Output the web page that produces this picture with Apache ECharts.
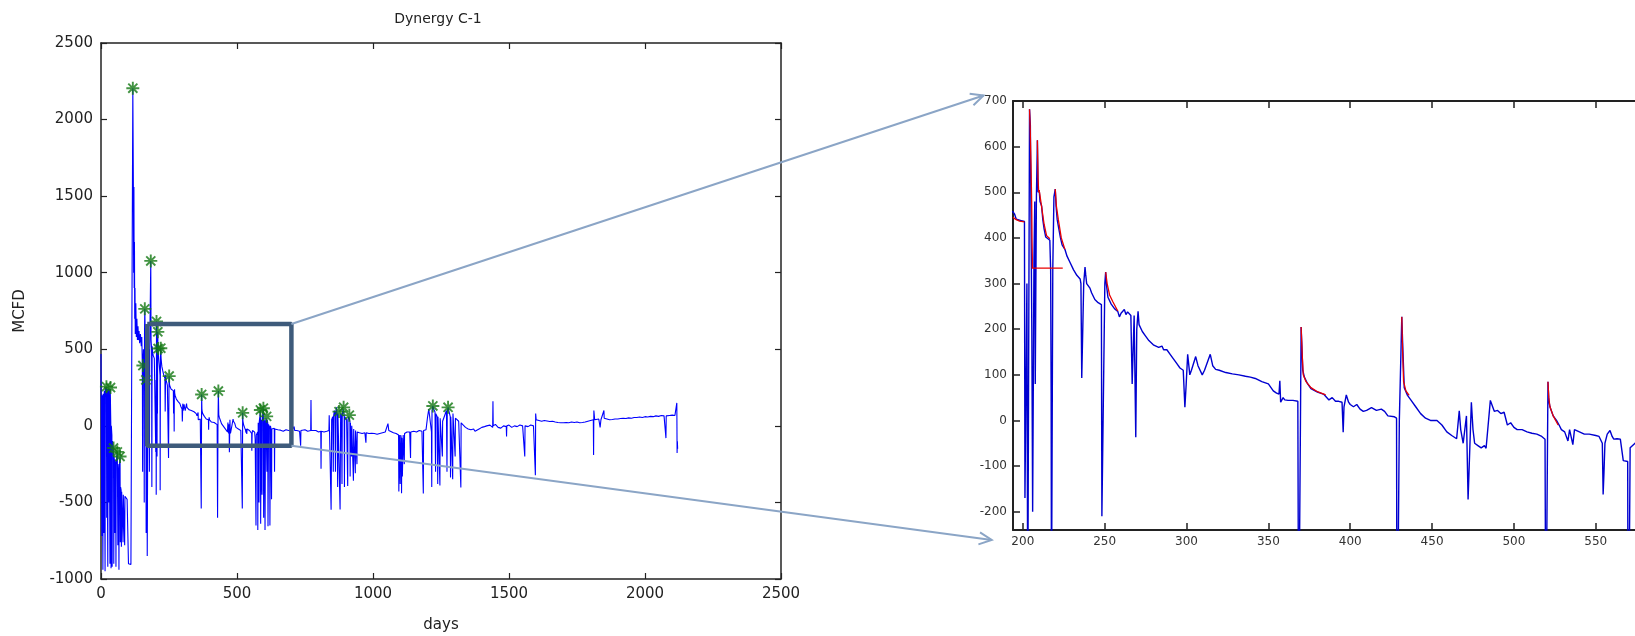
<!DOCTYPE html>
<html><head><meta charset="utf-8">
<script src="https://cdn.jsdelivr.net/npm/echarts@6/dist/echarts.min.js"></script>
<style>html,body{margin:0;padding:0;background:#fff}#c{width:1635px;height:636px}</style>
</head><body><div id="c"></div><script>
// ---------- data ----------
const chartTitle = 'Dynergy C-1';
const mainXTicks = [0, 500, 1000, 1500, 2000, 2500];
const mainYTicks = [-1000, -500, 0, 500, 1000, 1500, 2000, 2500];
const zoomXTicks = [200, 250, 300, 350, 400, 450, 500, 550, 600];
const zoomYTicks = [-200, -100, 0, 100, 200, 300, 400, 500, 600, 700];

// production rate [day, MCFD], days 0-192
const flowEarly = [[0,470],[0.5,200],[2,210],[3,-720],[4,200],[6,190],[7,-940],[8,210],[10,200],[11,-700],[12,230],[14,220],[15,-950],[16,240],[18,250],[20,256],[21,-600],[22,240],[24,230],[25,-920],[26,240],[28,235],[29,-500],[30,240],[32,245],[33,-900],[34,240],[35,250],[36,20],[37,-930],[38,0],[40,-60],[41,-920],[42,-100],[44,-130],[46,-145],[47,-900],[48,-200],[50,-250],[51,-700],[52,-220],[54,-300],[55,-920],[56,-250],[58,-200],[60,-170],[61,-170],[62,-780],[63,-250],[65,-350],[66,-940],[67,-300],[69,-220],[70,-200],[71,-760],[72,-400],[74,-420],[75,-790],[76,-430],[79,-440],[80,-440],[81,-760],[82,-450],[86,-460],[87,-780],[88,-460],[92,-470],[96,-480],[100,-490],[101,-900],[110,-905],[116,-905],[117,2205],[119,1570],[120,1000],[121,1560],[122,900],[123,1200],[124,700],[125,900],[126,600],[128,800],[130,580],[132,700],[134,560],[136,650],[138,560],[140,620],[142,540],[145,600],[148,520],[150,580],[152,400],[153,-300],[154,394],[156,500],[158,300],[159,-500],[160,600],[161,764],[163,560],[165,300],[166,-700],[167,450],[169,400],[170,-850],[172,-860],[173,450],[175,500],[177,420],[178,-300],[179,480],[182,470],[183,1077],[184,560],[186,500],[187,-400],[188,520],[190,480],[192,460]];

// days 194-574 (the zoomed window)
const flowZoom = [[194,457],[195,452],[196,441],[199,438],[201,436],[201.3,-170],[202,-170],[202.5,300],[203,-450],[203.6,-450],[204.1,682],[204.6,647],[205.2,647],[205.5,200],[206,-200],[206.5,-200],[206.8,350],[207.3,480],[207.6,80],[208,80],[208.3,490],[208.9,614],[209.3,500],[210,505],[210.5,480],[211.5,470],[212.2,440],[213,420],[214,402],[215,398],[216.5,395],[217,330],[217.3,60],[217.5,-420],[218,-420],[218.3,330],[219,490],[219.8,507],[220.3,470],[221,440],[222,420],[223,400],[224,385],[225.7,375],[227,360],[229,345],[231,330],[233,318],[235,310],[235.5,300],[236,93],[236.8,93],[237.2,300],[238,336],[238.4,320],[239,300],[241,290],[242,280],[244,265],[246,258],[248,254],[248.3,-210],[249.2,-210],[249.6,-210],[250.1,300],[250.6,325],[251,300],[252,270],[254,255],[256,245],[258,239],[259,227],[260,235],[262,243],[263,232],[264,238],[266,230],[266.8,80],[267.4,80],[268,230],[269,-37],[269.6,200],[270.4,239],[271,210],[273,195],[275,185],[277,175],[280,165],[283,160],[285,163],[286,155],[288,155],[290,145],[292,135],[294,125],[296,115],[298,110],[299,29],[299.8,80],[300.7,145],[302,100],[303,110],[305.6,140],[307,120],[309.6,100],[311,110],[314.5,145],[316,120],[317.8,112],[320,110],[324,105],[328,102],[332,100],[336,97],[339,95],[342,92],[346,85],[350,80],[353,65],[355,60],[356.5,58],[357,87],[357.5,40],[359,50],[360,45],[362,44],[365,44],[368,42],[368.5,-540],[369.3,-540],[369.6,0],[370,205],[370.4,170],[371,110],[372,95],[374,80],[376,70],[380,62],[384,57],[385,55],[387,45],[389,50],[391,42],[393,42],[395,40],[395.7,-26],[396.2,30],[397.6,56],[399,40],[400,35],[402,30],[404,35],[406,25],[408,20],[410,22],[413,28],[416,22],[419,25],[421,20],[423,10],[427,8],[428.3,5],[428.6,-600],[429.6,-600],[430,0],[431.5,227],[432,173],[433,72],[435,55],[437,45],[440,30],[443,15],[446,5],[449,0],[453,0],[456,-10],[459,-25],[462,-33],[465,-40],[466.6,21],[467.5,-20],[469,-50],[471,10],[472,-173],[473,-173],[474,40],[475,-20],[476,-50],[478,-55],[480,-60],[482,-55],[483,-61],[485.6,44],[487,30],[488,20],[490,22],[492,15],[494,18],[496,-10],[498,-5],[500,-15],[502,-20],[505,-20],[508,-25],[511,-28],[514,-30],[517,-35],[519,-41],[519.5,-540],[520.3,-540],[520.8,85],[521.3,44],[522,30],[524,10],[526,0],[527.6,-10],[529,-20],[531,-25],[533,-45],[534,-20],[536,-53],[537,-20],[540,-25],[543,-30],[546,-30],[550,-33],[552,-35],[554,-50],[554.5,-162],[555,-115],[555.6,-50],[557,-30],[558.7,-22],[560,-35],[561,-41],[563,-40],[565,-41],[566.8,-88],[568,-90],[569.5,-90],[569.8,-650],[570.5,-650],[571,-60],[574,-50]];

// days 576-2120
const flowLate = [[576,-40],[576.5,-680],[577.5,-680],[578,20],[580,10],[581,-500],[582,30],[584,60],[586,104],[587,-640],[588,-640],[589,40],[591,30],[592,-450],[593,50],[595,80],[597,115],[598,-600],[599,-600],[600,40],[602,20],[603,-680],[604,-680],[605,30],[607,50],[609,62],[610,-300],[611,40],[613,20],[614,-655],[615,-655],[616,10],[618,0],[620,-10],[621,-650],[622,-650],[623,0],[625,-20],[627,-480],[628,-20],[630,-10],[633,-15],[635,-20],[637,-15],[638,-300],[639,-20],[642,-25],[645,-20],[650,-25],[655,-30],[660,-28],[665,-20],[670,-35],[675,-30],[680,-25],[685,-35],[690,-30],[695,-25],[700,-35],[705,-30],[710,-5],[712,-30],[720,-30],[730,-35],[733,-35],[734,-130],[735,-30],[740,-30],[750,-25],[755,-30],[760,-35],[765,-30],[771,-30],[772,168],[773,-30],[780,-35],[790,-30],[800,-40],[808,-35],[809,-280],[810,-35],[820,-40],[830,-35],[838,-30],[839,70],[840,-20],[845,-20],[846,-548],[847,-548],[848,40],[852,60],[854,-300],[855,60],[858,100],[860,80],[862,-300],[863,90],[866,121],[868,60],[870,-400],[871,80],[875,93],[877,70],[879,-546],[880,-546],[881,80],[884,60],[886,-380],[887,70],[890,110],[892,121],[894,70],[895,-400],[896,60],[900,50],[903,40],[907,-392],[908,40],[911,60],[913,70],[915,30],[916,-330],[917,20],[920,10],[921,-200],[922,0],[926,-10],[928,-359],[929,-20],[933,-30],[935,-310],[936,-30],[940,-40],[941,-250],[942,-40],[950,-45],[960,-50],[970,-45],[973,-45],[974,-110],[975,-45],[985,-50],[995,-48],[1005,-50],[1015,-55],[1025,-50],[1035,-45],[1045,-40],[1050,-30],[1055,15],[1058,-30],[1065,-40],[1075,-45],[1085,-50],[1090,-60],[1094,-60],[1095,-429],[1096,-429],[1097,-60],[1099,-70],[1100,-380],[1101,-380],[1102,-60],[1104,-80],[1105,-440],[1106,-80],[1108,-330],[1110,-336],[1111,-60],[1114,-60],[1115,-250],[1116,-50],[1125,-40],[1135,-40],[1137,-40],[1138,-210],[1139,-40],[1150,-35],[1160,-40],[1170,-30],[1180,-35],[1184,-30],[1185,-442],[1186,-30],[1192,-20],[1195,-25],[1200,50],[1205,110],[1210,100],[1215,-40],[1216,-400],[1217,100],[1220,130],[1223,110],[1228,90],[1230,-300],[1231,80],[1236,60],[1238,-380],[1239,60],[1245,50],[1246,-389],[1247,50],[1252,40],[1255,-200],[1256,30],[1262,20],[1270,100],[1272,-300],[1273,90],[1276,121],[1280,90],[1284,60],[1285,-338],[1286,60],[1290,50],[1293,-349],[1294,80],[1298,70],[1302,-200],[1303,50],[1308,40],[1315,30],[1322,20],[1323,-402],[1324,20],[1330,10],[1340,-10],[1350,-20],[1360,-25],[1370,-20],[1375,-35],[1377,-45],[1380,-30],[1390,-20],[1400,-10],[1410,-5],[1418,0],[1425,10],[1430,5],[1440,-10],[1441,160],[1442,0],[1450,10],[1460,-10],[1465,0],[1470,-15],[1480,0],[1490,-5],[1491,-70],[1492,0],[1500,5],[1510,-10],[1520,0],[1530,-5],[1540,5],[1550,0],[1557,0],[1558,-200],[1559,0],[1570,-5],[1580,5],[1590,0],[1596,-10],[1597,-323],[1598,81],[1600,40],[1610,35],[1620,30],[1630,35],[1640,32],[1650,28],[1660,30],[1670,25],[1680,22],[1690,20],[1700,20],[1710,22],[1720,20],[1730,25],[1740,22],[1750,25],[1760,20],[1770,22],[1780,25],[1790,30],[1800,35],[1810,40],[1811,-190],[1812,100],[1815,40],[1820,30],[1830,45],[1835,-10],[1838,40],[1845,50],[1849,100],[1850,50],[1855,40],[1860,45],[1870,40],[1880,42],[1890,45],[1900,45],[1910,48],[1920,50],[1930,48],[1940,52],[1950,50],[1960,55],[1970,55],[1980,58],[1990,55],[2000,60],[2010,58],[2020,62],[2030,60],[2040,65],[2050,62],[2060,68],[2070,65],[2076,65],[2077,-80],[2078,65],[2090,68],[2100,70],[2110,68],[2115,65],[2117,150],[2118,-177],[2119,-100],[2120,-150]];

// detected peaks (green asterisks)
const starDays = [20, 35, 46, 60, 70, 117, 154, 161, 165, 183, 204.1, 208.9, 210, 219.8, 250.6, 370, 431.5, 520.8, 586, 597, 609, 875, 892, 913, 1220, 1276];
const starMcfd = [256, 250, -145, -170, -200, 2205, 394, 764, 300, 1077, 682, 614, 505, 507, 325, 205, 227, 85, 104, 115, 62, 93, 121, 70, 130, 121];

// red decline fits shown in the zoom panel
const fitA = [[194,445],[196,440],[198,437],[201,435]];
const fitB = [[204.1,682],[204.5,640],[205,560],[205.4,480],[205.6,400],[205.8,355],[205.8,334]];
const fitLevel = [[205.4,334],[224.4,334]];
const fitC = [[208.9,614],[209.3,530],[209.7,500],[210,505],[211,480],[212,455],[213,430],[214.5,405],[216.5,398]];
const fitD = [[219.8,507],[220.5,470],[221.7,440],[223.5,400],[225.7,375]];
const fitE = [[250.6,325],[251.5,300],[253,275],[255,260],[258,240]];
const fitF = [[370,205],[370.6,150],[371.3,100],[373,85],[376,72],[380,63],[385,56]];
const fitG = [[431.5,227],[432,150],[432.6,85],[434,65],[436,55]];
const fitH = [[520.8,85],[521.3,50],[522,30],[524,10],[527,-10]];

// zoom rectangle (data coords of main panel)
const boxDays = [170, 700, 700, 170, 170];
const boxMcfd = [665, 665, -130, -130, 665];
// arrow targets (data coords of zoom panel)
const arrowTargetDays = [176, 181];
const arrowTargetMcfd = [712, -262];

// ---------- chart ----------
const flow = flowEarly.concat(flowZoom, flowLate);
const zoomFlow = flow.filter(p => p[0] >= 185 && p[0] <= 610);
const fits = [fitA, fitB, fitLevel, fitC, fitD, fitE, fitF, fitG, fitH];

const FONT = 'DejaVu Sans';
const axisCol = '#222';
const plain = v => String(v);
function mainAxis(extra) {
  return Object.assign({
    type: 'value', gridIndex: 0,
    axisLine: {show: true, onZero: false, lineStyle: {color: axisCol, width: 1.5}},
    axisTick: {show: true, inside: true, length: 6, lineStyle: {color: axisCol, width: 1.2}},
    splitLine: {show: false},
    axisLabel: {show: true, formatter: plain, color: '#222', fontFamily: FONT, fontSize: 15, margin: 8}
  }, extra);
}
function zoomAxis(extra, ticks) {
  return Object.assign({
    type: 'value', gridIndex: 1,
    axisLine: {show: true, onZero: false, lineStyle: {color: axisCol, width: 2}},
    axisTick: {show: true, inside: true, length: 7, customValues: ticks, lineStyle: {color: axisCol, width: 1.5}},
    splitLine: {show: false},
    axisLabel: {show: true, formatter: plain, customValues: ticks, color: '#333', fontFamily: FONT, fontSize: 12, margin: 6}
  }, extra);
}

const chart = echarts.init(document.getElementById('c'), null, {renderer: 'canvas'});
const asterisk = 'path://M5,0L5,10M0,5L10,5M1.5,1.5L8.5,8.5M1.5,8.5L8.5,1.5';

const option = {
  animation: false,
  backgroundColor: '#fff',
  grid: [
    {left: 101, top: 43, width: 680, height: 536, outerBoundsMode: 'none', containLabel: false},
    {left: 1013, top: 101, width: (600 - 194) * 1.637, height: 429, outerBoundsMode: 'none', containLabel: false}
  ],
  xAxis: [
    mainAxis({min: 0, max: 2500, interval: 500, position: 'bottom', name: 'days', nameLocation: 'middle', nameGap: 39,
      nameTextStyle: {fontFamily: FONT, fontSize: 15, color: '#222'}}),
    mainAxis({min: 0, max: 2500, interval: 500, position: 'top', axisLabel: {show: false}}),
    zoomAxis({min: 194, max: 600, position: 'bottom'}, zoomXTicks),
    zoomAxis({min: 194, max: 600, position: 'top', axisLabel: {show: false}}, zoomXTicks)
  ],
  yAxis: [
    mainAxis({min: -1000, max: 2500, interval: 500, position: 'left', name: 'MCFD', nameLocation: 'middle', nameGap: 73,
      nameTextStyle: {fontFamily: FONT, fontSize: 15, color: '#222'}}),
    mainAxis({min: -1000, max: 2500, interval: 500, position: 'right', axisLabel: {show: false}}),
    zoomAxis({min: -240, max: 700, position: 'left'}, zoomYTicks)
  ],
  series: [
    {type: 'line', xAxisIndex: 0, yAxisIndex: 0, data: flow, showSymbol: false, symbol: 'none',
      lineStyle: {color: '#0000ff', width: 1.1}, z: 2},
    {type: 'scatter', xAxisIndex: 0, yAxisIndex: 0, data: starDays.map((d, i) => [d, starMcfd[i]]),
      symbol: asterisk, symbolSize: 13,
      itemStyle: {color: 'rgba(0,0,0,0)', borderColor: '#137813', borderWidth: 1.9}, z: 4},
    {type: 'line', xAxisIndex: 0, yAxisIndex: 0, data: boxDays.map((d, i) => [d, boxMcfd[i]]),
      showSymbol: false, symbol: 'none', lineStyle: {color: '#3e5b7b', width: 4.5}, z: 5},
    {type: 'line', xAxisIndex: 2, yAxisIndex: 2, data: zoomFlow, showSymbol: false, symbol: 'none', clip: true,
      lineStyle: {color: '#0000d0', width: 1.4}, z: 2}
  ].concat(fits.map(f => ({type: 'line', xAxisIndex: 2, yAxisIndex: 2, data: f, showSymbol: false, symbol: 'none',
      clip: true, lineStyle: {color: '#e80000', width: 1.3}, z: 3})))
};
chart.setOption(option);

function arrow(p0, p1) {
  const ang = Math.atan2(p1[1] - p0[1], p1[0] - p0[0]);
  const L = 14, w = 0.45;
  const h1 = [p1[0] - L * Math.cos(ang - w), p1[1] - L * Math.sin(ang - w)];
  const h2 = [p1[0] - L * Math.cos(ang + w), p1[1] - L * Math.sin(ang + w)];
  const st = {stroke: '#8ba5c6', lineWidth: 2, fill: null};
  return [
    {type: 'line', shape: {x1: p0[0], y1: p0[1], x2: p1[0], y2: p1[1]}, style: st, z: 10},
    {type: 'polyline', shape: {points: [h1, p1, h2]}, style: st, z: 10}
  ];
}
const s1 = chart.convertToPixel({gridIndex: 0}, [boxDays[1], boxMcfd[1]]);
const s2 = chart.convertToPixel({gridIndex: 0}, [boxDays[2], boxMcfd[2]]);
const e1 = chart.convertToPixel({gridIndex: 1}, [arrowTargetDays[0], arrowTargetMcfd[0]]);
const e2 = chart.convertToPixel({gridIndex: 1}, [arrowTargetDays[1], arrowTargetMcfd[1]]);
const mainGridCenter = chart.convertToPixel({gridIndex: 0}, [1250, 2500]);
chart.setOption({
  graphic: arrow(s1, e1).concat(arrow(s2, e2), [
    {type: 'text', x: mainGridCenter[0] - 3, y: 12, style: {text: chartTitle, font: '14px "DejaVu Sans"', fill: '#222', textAlign: 'center'}, z: 10}
  ])
});
</script></body></html>
